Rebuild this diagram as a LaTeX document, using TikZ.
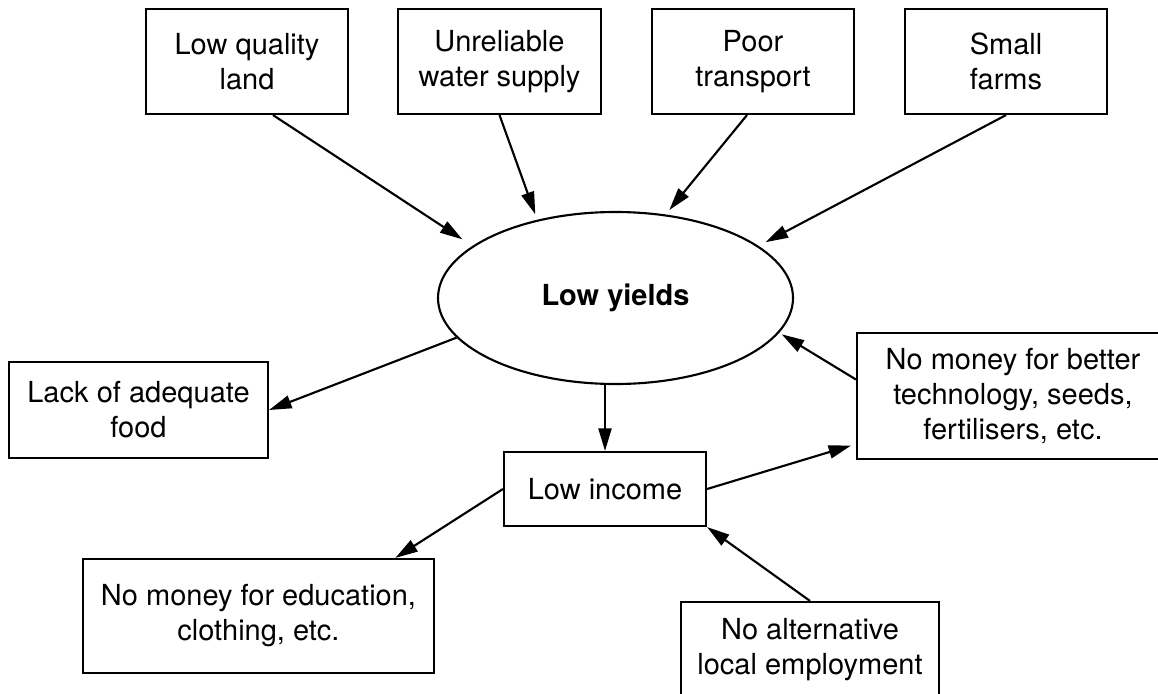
\documentclass[tikz,border=0pt]{standalone}
\usepackage{fontspec}
\setmainfont{TeX Gyre Heros}
\usetikzlibrary{shapes,arrows.meta,positioning}

\begin{document}
\begin{tikzpicture}[x=0.4pt, y=-0.4pt,
    cause/.style={draw, line width=0.85pt, align=center, inner sep=0pt, font=\fontsize{11.6}{14}\selectfont},
    arr/.style={-{Triangle[length=9pt,width=5.2pt]}, line width=0.85pt}]
\useasboundingbox (0,0) rectangle (1158,693);
%============ causes
\node[cause, minimum width=80.8pt, minimum height=42pt] (LQ) at (247,61.5) {Low quality\\land};
\node[cause, minimum width=81.2pt, minimum height=42pt] (UW) at (499.5,61.5) {Unreliable\\water supply};
\node[cause, minimum width=80.8pt, minimum height=42pt] (PT) at (753,61.5) {Poor\\transport};
\node[cause, minimum width=80.8pt, minimum height=42pt] (SF) at (1006,61.5) {Small\\farms};
%============ centre
\node[cause, ellipse, minimum width=142pt, minimum height=68.8pt, font=\fontsize{11.6}{14}\selectfont\bfseries] (LY) at (615.5,298) {Low yields};
%============ effects
\node[cause, minimum width=103.6pt, minimum height=38.4pt] (LF) at (138.5,410) {Lack of adequate\\food};
\node[cause, minimum width=80.8pt, minimum height=29.6pt] (LI) at (605,489) {Low income};
\node[cause, minimum width=124.8pt, minimum height=50.4pt] (TE) at (1013,396) {No money for better\\technology, seeds,\\fertilisers, etc.};
\node[cause, minimum width=140.4pt, minimum height=45.6pt] (ED) at (258.5,616) {No money for education,\\clothing, etc.};
\node[cause, minimum width=103.2pt, minimum height=38.4pt] (EM) at (810,650) {No alternative\\local employment};
%==========

\draw[arr, shorten >=4.8pt] ([xshift=10.4pt]LQ.south) -- (LY.160);
\draw[arr, shorten >=2.3pt] (UW.south) -- (LY.135);
\draw[arr, shorten >=2.3pt] ([xshift=-2.4pt]PT.south) -- (LY.59);
\draw[arr, shorten >=3.2pt] (SF.south) -- (LY.20);

\draw[arr] (LY.194) -- (LF.east);
\draw[arr] (LY.south -| LI.north) -- (LI.north);
\draw[arr] (LI.west) -- (ED.23);
\draw[arr, shorten >=2pt] (LI.east) -- (TE.197);
\draw[arr, shorten >=1.2pt] (TE.174) -- (LY.348);
\draw[arr] (EM.north) -- (LI.south east);

\end{tikzpicture}
\end{document}
